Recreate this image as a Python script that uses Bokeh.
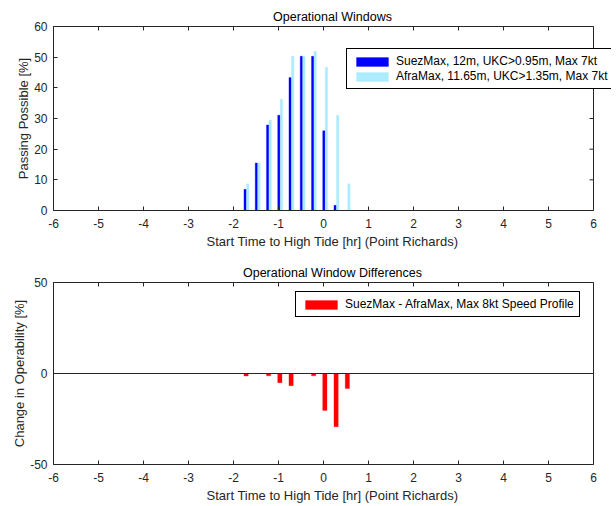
from bokeh.plotting import figure
from bokeh.layouts import column
from bokeh.models import (LinearAxis, FixedTicker, Legend, LegendItem, Span,
                          ColumnDataSource)
from bokeh.transform import dodge
from bokeh.embed import file_html
from bokeh.resources import INLINE

# ---- data ----
hours = [-1.75, -1.5, -1.25, -1.0, -0.75, -0.5, -0.25, 0.0, 0.25, 0.5]
suezmax = [6.9, 15.5, 27.9, 31.1, 43.4, 50.3, 50.3, 26.0, 1.7, 0.0]
aframax = [8.7, 15.5, 29.5, 36.3, 50.3, 50.3, 51.9, 46.7, 31.1, 8.7]
difference = [-1.4, 0.0, -1.3, -5.1, -6.7, 0.0, -1.3, -20.3, -29.3, -8.3]

x_ticks = [-6, -5, -4, -3, -2, -1, 0, 1, 2, 3, 4, 5, 6]
y_ticks_top = [0, 10, 20, 30, 40, 50, 60]
y_ticks_bottom = [-50, 0, 50]

FONT = "Liberation Sans"
AX = "#262626"
W = 613
X_END = 6.4  # frame widened past x=6 so the legend may overhang the axes box

src = ColumnDataSource(dict(h=hours, s=suezmax, a=aframax, d=difference))


def style(p, yticks, xlabel, ylabel):
    p.min_border_left = 53
    p.min_border_right = 2
    p.outline_line_color = None
    p.xaxis.ticker = FixedTicker(ticks=x_ticks)
    p.yaxis.ticker = FixedTicker(ticks=yticks)
    p.xaxis.major_label_overrides = {t: str(t) for t in x_ticks}
    p.yaxis.major_label_overrides = {t: str(t) for t in yticks}
    p.xaxis.axis_label = xlabel
    p.yaxis.axis_label = ylabel
    p.xgrid.visible = False
    p.ygrid.visible = False
    p.title.align = "center"
    p.title.text_font = FONT
    p.title.text_font_size = "12.5px"
    p.title.text_font_style = "normal"
    p.title.text_color = "#000000"
    p.title.standoff = 6
    for ax in p.axis:
        ax.major_tick_in = 4
        ax.major_tick_out = 0
        ax.minor_tick_line_color = None
        ax.axis_line_color = AX
        ax.major_tick_line_color = AX
        ax.major_label_text_font = FONT
        ax.major_label_text_font_size = "12px"
        ax.major_label_text_color = AX
        ax.axis_label_text_font = FONT
        ax.axis_label_text_font_size = "13px"
        ax.axis_label_text_font_style = "normal"
        ax.axis_label_text_color = AX
    p.xaxis.major_label_standoff = 8
    p.xaxis.axis_label_standoff = 3
    p.yaxis.major_label_standoff = 6
    p.yaxis.axis_label_standoff = 0
    p.xaxis.bounds = (x_ticks[0], x_ticks[-1])
    top = LinearAxis(ticker=FixedTicker(ticks=x_ticks), major_tick_in=4, major_tick_out=0,
                     minor_tick_line_color=None, major_label_text_font_size="0px",
                     axis_line_color=AX, major_tick_line_color=AX,
                     major_label_standoff=0, bounds=(x_ticks[0], x_ticks[-1]))
    p.add_layout(top, "above")
    # right edge of the axes box and its inward ticks
    p.add_layout(Span(location=x_ticks[-1], dimension="height", line_color=AX, line_width=1))
    p.segment(x0=[x_ticks[-1]] * len(yticks), x1=[x_ticks[-1] - 4 / 45] * len(yticks),
              y0=yticks, y1=yticks, line_color=AX, line_width=1)


# ---- top chart ----
p1 = figure(width=W, height=256, x_range=(-6, X_END), y_range=(0, 60),
            output_backend="svg", toolbar_location=None,
            title="Operational Windows")
p1.min_border_top = 26
p1.min_border_bottom = 46
style(p1, y_ticks_top, "Start Time to High Tide [hr] (Point Richards)",
      "Passing Possible [%]")

r_s = p1.vbar(x=dodge("h", 0.01, range=p1.x_range), top="s", bottom=0, width=0.055,
              source=src, fill_color="#0000FF", line_color="#0000FF", line_width=0.3)
r_a = p1.vbar(x=dodge("h", 0.065, range=p1.x_range), top="a", bottom=0, width=0.055,
              source=src, fill_color="#ADEBFF", line_color="#ADEBFF", line_width=0.3)

leg1 = Legend(items=[LegendItem(label="SuezMax, 12m, UKC>0.95m, Max 7kt", renderers=[r_s]),
                     LegendItem(label="AfraMax, 11.65m, UKC>1.35m, Max 7kt", renderers=[r_a])],
              location=(293, 121), glyph_width=40, glyph_height=11,
              label_text_font=FONT, label_text_font_size="12px", label_text_color="#000000",
              label_height=11, spacing=1, padding=5, margin=0,
              border_line_color="#000000", border_line_width=1, border_line_alpha=1,
              background_fill_color="white", background_fill_alpha=1,
              label_standoff=4)
p1.add_layout(leg1, "center")

# ---- bottom chart ----
p2 = figure(width=W, height=249, x_range=(-6, X_END), y_range=(-50, 50),
            output_backend="svg", toolbar_location=None,
            title="Operational Window Differences")
p2.min_border_top = 26
p2.min_border_bottom = 41
style(p2, y_ticks_bottom, "Start Time to High Tide [hr] (Point Richards)",
      "Change in Operability [%]")
p2.xaxis[0].major_label_standoff = 7
p2.xaxis[0].axis_label_standoff = 5

r_d = p2.vbar(x=dodge("h", 0.03, range=p2.x_range), top=0, bottom="d", width=0.095,
              source=src, fill_color="#FF0000", line_color="#FF0000", line_width=0.3)
p2.segment(x0=[x_ticks[0]], x1=[x_ticks[-1]], y0=[0], y1=[0], line_color=AX, line_width=1)

leg2 = Legend(items=[LegendItem(label="SuezMax - AfraMax, Max 8kt Speed Profile", renderers=[r_d])],
              location=(242, 147), glyph_width=40, glyph_height=11,
              label_text_font=FONT, label_text_font_size="12px", label_text_color="#000000",
              label_height=11, spacing=1, padding=5, margin=0,
              border_line_color="#000000", border_line_width=1, border_line_alpha=1,
              background_fill_color="white", background_fill_alpha=1,
              label_standoff=4)
p2.add_layout(leg2, "center")

layout = column(p1, p2, spacing=0)
open("out.html", "w").write(file_html(layout, INLINE))
